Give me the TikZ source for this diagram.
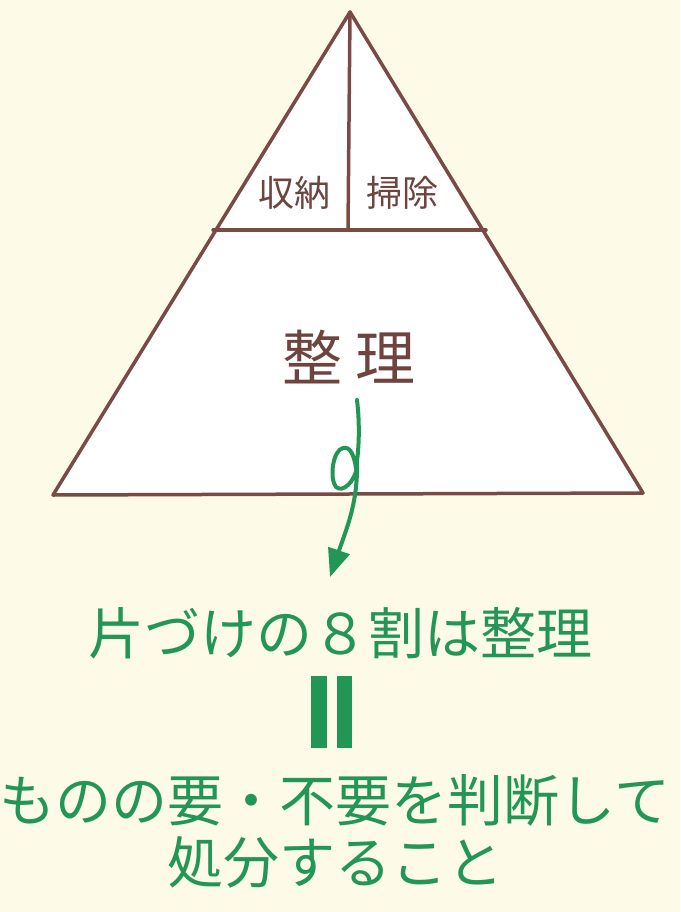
\documentclass[tikz,border=0pt]{standalone}
\usepackage{fontspec}
\setmainfont{Noto Sans CJK JP}
\usepackage{tikz}
\usetikzlibrary{arrows.meta}
\definecolor{paper}{HTML}{FDFAE8}
\definecolor{brownline}{HTML}{7A4B45}
\definecolor{greentext}{RGB}{34,150,84}
\tikzset{%
  EdgeStyle/.style={draw=brownline,line width=3.5pt,line join=round,line cap=round},
  SmallLabel/.style={text=brownline!90!black,font=\fontsize{36}{36}\selectfont,inner sep=0pt},
  BigLabel/.style={text=brownline!90!black,font=\fontsize{60}{60}\selectfont,inner sep=0pt},
  GreenText/.style={text=greentext,font=\fontsize{56}{62}\selectfont,inner sep=0pt,align=center}
}

\begin{document}
\begin{tikzpicture}[x=1pt,y=-1pt]
\fill[paper] (0,0) rectangle (680,912);
\useasboundingbox (0,0) rectangle (680,912);

\coordinate (apex) at (350,12);
\coordinate (baseL) at (53,495);
\coordinate (baseR) at (643,493);
\coordinate (midL) at (213,230);
\coordinate (midR) at (486,230);
\coordinate (midC) at (348,230);

\filldraw[EdgeStyle,fill=white] (apex) -- (baseL) -- (baseR) -- cycle;
\draw[EdgeStyle] (midL) -- (midR);
\draw[EdgeStyle] (apex) -- (midC);

\node (shuno) [SmallLabel] at (294,193) {収納};
\node (soji) [SmallLabel] at (402,193) {掃除};
\node (seiri) [BigLabel] at (349,357) {整\hspace{14pt}理};

\node (title) [GreenText] at (340,633) {片づけの８割は整理};
\node (detail) [GreenText] at (335,831) {ものの要・不要を判断して\\処分すること};

% equals sign, drawn upright
\fill[greentext] (311,676) rectangle (327,748);
\fill[greentext] (337,676) rectangle (352,748);

% looped arrow
\coordinate (arrowStart) at (357,400);
\coordinate (arrowEnd) at (330,577);
\draw[draw=greentext,line width=4pt,line cap=round,-{Triangle[length=28pt,width=22pt]}]
  (arrowStart) .. controls (360,425) and (359,450) .. (356,468)
  .. controls (354,455) and (350,446) .. (343,448)
  .. controls (333,450) and (329,478) .. (336,487)
  .. controls (343,493) and (354,482) .. (357,468)
  .. controls (357,505) and (346,530) .. (arrowEnd);
\end{tikzpicture}
\end{document}
